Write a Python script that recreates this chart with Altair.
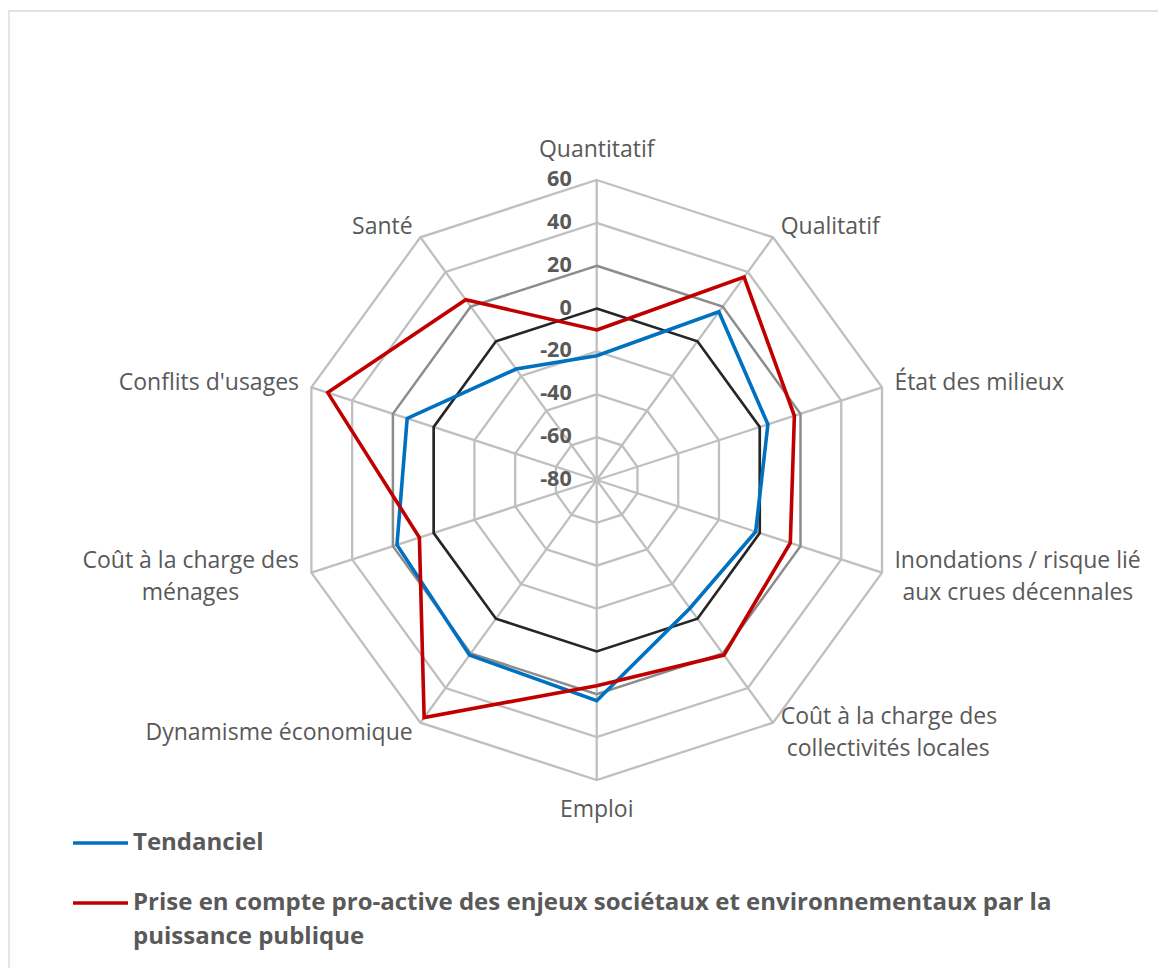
import textwrap
import altair as alt
import pandas as pd

# ---------------- data ----------------
CATEGORIES = [
    "Quantitatif",
    "Qualitatif",
    "État des milieux",
    "Inondations / risque lié aux crues décennales",
    "Coût à la charge des collectivités locales",
    "Emploi",
    "Dynamisme économique",
    "Coût à la charge des ménages",
    "Conflits d'usages",
    "Santé",
]
LABEL_LINES = [
    ["Quantitatif"],
    ["Qualitatif"],
    ["État des milieux"],
    ["Inondations / risque lié", "aux crues décennales"],
    ["Coût à la charge des", "collectivités locales"],
    ["Emploi"],
    ["Dynamisme économique"],
    ["Coût à la charge des", "ménages"],
    ["Conflits d'usages"],
    ["Santé"],
]
SERIES = [
    "Tendanciel",
    "Prise en compte pro-active des enjeux sociétaux et environnementaux par la puissance publique",
]
TENDANCIEL = [-22, 17, 4, -2, -6, 23, 21, 18, 13, -16]
PRO_ACTIVE = [-10, 37, 17, 15, 21, 16, 57, 7, 52, 24]
TICKS = [-80, -60, -40, -20, 0, 20, 40, 60]
TICK_LABELS = [str(t) for t in TICKS]
COLORS = ["#0070C0", "#C00000"]

# ---------------- layout ----------------
W, H = 1150, 960
CX, CY = 588.7, 472.0          # centre of the radar in plot pixels
R = 300.0                      # outer radius in pixels
VMIN, VMAX = TICKS[0], TICKS[-1]
N = len(CATEGORIES)
LR = 313.0                     # label radius
LINEH = 32.0
EXTRA = 17.0
FONT = "Open Sans"
LABEL_SIZE = 23
TXT = "#595959"

# approximate advance widths (em) of Open Sans, used to centre wrapped lines
GLYPH_EM = {' ': 0.26, 'i': 0.258, 'l': 0.258, 't': 0.361, 'f': 0.336, 'r': 0.408,
            '/': 0.371, "'": 0.235, 'j': 0.258, 'I': 0.279, 'm': 0.925, 'w': 0.8,
            'a': 0.556, 'à': 0.556, 'c': 0.481, 'd': 0.618, 'e': 0.561, 'é': 0.561,
            'n': 0.618, 'o': 0.602, 's': 0.478, 'u': 0.618, 'û': 0.618, 'x': 0.524,
            'q': 0.618, 'g': 0.553, 'h': 0.618, 'C': 0.633}


def text_w(s):
    return sum(GLYPH_EM.get(ch, 0.56) for ch in s) * LABEL_SIZE


xs = alt.Scale(domain=[-CX, W - CX], nice=False, zero=False)
ys = alt.Scale(domain=[-(H - CY), CY], nice=False, zero=False)


def X(f):
    return alt.X(f"{f}:Q", scale=xs, axis=None)


def Y(f):
    return alt.Y(f"{f}:Q", scale=ys, axis=None)


THETA = f"datum.idx * 2 * PI / {N}"
RADIUS = f"(datum.value - ({VMIN})) / ({VMAX} - ({VMIN})) * {R}"

# ---------------- tables ----------------
series_df = pd.DataFrame(
    [{"series": s, "idx": i, "value": v}
     for s, vals in zip(SERIES, [TENDANCIEL, PRO_ACTIVE])
     for i, v in enumerate(vals)]
)
rings_df = pd.DataFrame(
    [{"tick": t, "idx": i, "value": t} for t in TICKS[1:] for i in range(N)]
)
spokes_df = pd.DataFrame([{"idx": i, "value": VMAX} for i in range(N)])
ticks_df = pd.DataFrame({"value": TICKS, "label": TICK_LABELS})

lab_rows = []
for i, lines in enumerate(LABEL_LINES):
    mx = max(text_w(l) for l in lines)
    for k, l in enumerate(lines):
        lab_rows.append({"idx": i, "text": l, "k": k, "n": len(lines),
                         "maxw": mx, "w": text_w(l)})
labels_df = pd.DataFrame(lab_rows)

leg_rows = []
for i, s in enumerate(SERIES):
    for k, l in enumerate(textwrap.wrap(s, 74, break_on_hyphens=False)):
        leg_rows.append({"series": s, "i": i, "k": k, "text": l})
legend_df = pd.DataFrame(leg_rows)


def polar(chart):
    return chart.transform_calculate(
        theta=THETA, r=RADIUS
    ).transform_calculate(
        px="datum.r * sin(datum.theta)", py="datum.r * cos(datum.theta)"
    )


# spokes
spokes = polar(alt.Chart(spokes_df)).transform_calculate(zero="0").mark_rule(
    color="#BFBFBF", strokeWidth=2.3
).encode(x=X("zero"), y=Y("zero"), x2="px:Q", y2="py:Q")


def ring_layer(filt, color, width):
    return polar(alt.Chart(rings_df)).transform_filter(filt).mark_line(
        interpolate="linear-closed", color=color, strokeWidth=width
    ).encode(x=X("px"), y=Y("py"), detail="tick:N", order="idx:Q")


rings_light = ring_layer("datum.tick != 0 && datum.tick != 20", "#BFBFBF", 2.3)
ring_20 = ring_layer("datum.tick == 20", "#8C8C8C", 2.5)
ring_0 = ring_layer("datum.tick == 0", "#262626", 2.7)

color_scale = alt.Scale(domain=SERIES, range=COLORS)
series_layers = []
for s in SERIES:
    series_layers.append(
        polar(alt.Chart(series_df)).transform_filter(
            alt.datum.series == s
        ).mark_line(interpolate="linear-closed", strokeWidth=3.6).encode(
            x=X("px"), y=Y("py"), order="idx:Q",
            color=alt.Color("series:N", scale=color_scale, legend=None),
        )
    )

# tick labels
tick_text = polar(alt.Chart(ticks_df).transform_calculate(idx="0")).transform_calculate(
    zero="0"
).mark_text(
    align="right", baseline="middle", dx=-25, font=FONT, fontSize=21.5,
    fontWeight="bold", color=TXT
).encode(x=X("zero"), y=Y("r"), text="label:N")


# category labels
def cat_labels(side, align):
    return alt.Chart(labels_df).transform_calculate(
        theta=THETA
    ).transform_calculate(
        s="sin(datum.theta) > 0.01 ? 1 : (sin(datum.theta) < -0.01 ? -1 : 0)",
        c="cos(datum.theta) > 0 ? 1 : -1",
    ).transform_filter(f"datum.s == {side}").transform_calculate(
        lx=f"{LR} * sin(datum.theta) + datum.s * (datum.maxw - datum.w) / 2",
        ly=f"{LR} * cos(datum.theta) + (datum.s == 0 ? datum.c * {EXTRA} : 0)"
           f" - (datum.k - (datum.n - 1) / 2) * {LINEH}",
    ).mark_text(
        align=align, baseline="middle", font=FONT, fontSize=LABEL_SIZE, color=TXT
    ).encode(x=X("lx"), y=Y("ly"), text="text:N")


labels_r = cat_labels(1, "left")
labels_l = cat_labels(-1, "right")
labels_c = cat_labels(0, "center")

# legend (page pixel layout converted to data units)
LEG_X0, LEG_X1, LEG_TX = 73 - 8, 128 - 8, 133 - 8
LEG_Y0, LEG_GAP, LEG_LH = 843 - 8, 60, 34

legend_lines = alt.Chart(legend_df).transform_filter("datum.k == 0").transform_calculate(
    x0=f"{LEG_X0} - {CX}", x1=f"{LEG_X1} - {CX}",
    ly=f"{CY} - ({LEG_Y0} + datum.i * {LEG_GAP})",
).mark_rule(strokeWidth=3.6).encode(
    x=X("x0"), x2="x1:Q", y=Y("ly"),
    color=alt.Color("series:N", scale=color_scale, legend=None),
)
legend_text = alt.Chart(legend_df).transform_calculate(
    tx=f"{LEG_TX} - {CX}",
    ly=f"{CY} - ({LEG_Y0} + datum.i * {LEG_GAP} + datum.k * {LEG_LH})",
).mark_text(
    align="left", baseline="middle", font=FONT, fontSize=24,
    fontWeight="bold", color=TXT
).encode(x=X("tx"), y=Y("ly"), text="text:N")

border = alt.Chart(pd.DataFrame({"a": [0]})).mark_rect(
    fillOpacity=0, stroke="#D9D9D9", strokeWidth=1.3
).encode(x=alt.value(1), x2=alt.value(1400), y=alt.value(3), y2=alt.value(1400))

chart = alt.layer(
    border, spokes, rings_light, ring_20, ring_0, *series_layers,
    tick_text, labels_r, labels_l, labels_c, legend_lines, legend_text,
).properties(
    width=W, height=H, padding=0, autosize="none", background="white"
).configure_view(stroke=None)

chart.save("out.html", embed_options={"renderer": "svg", "actions": False})
